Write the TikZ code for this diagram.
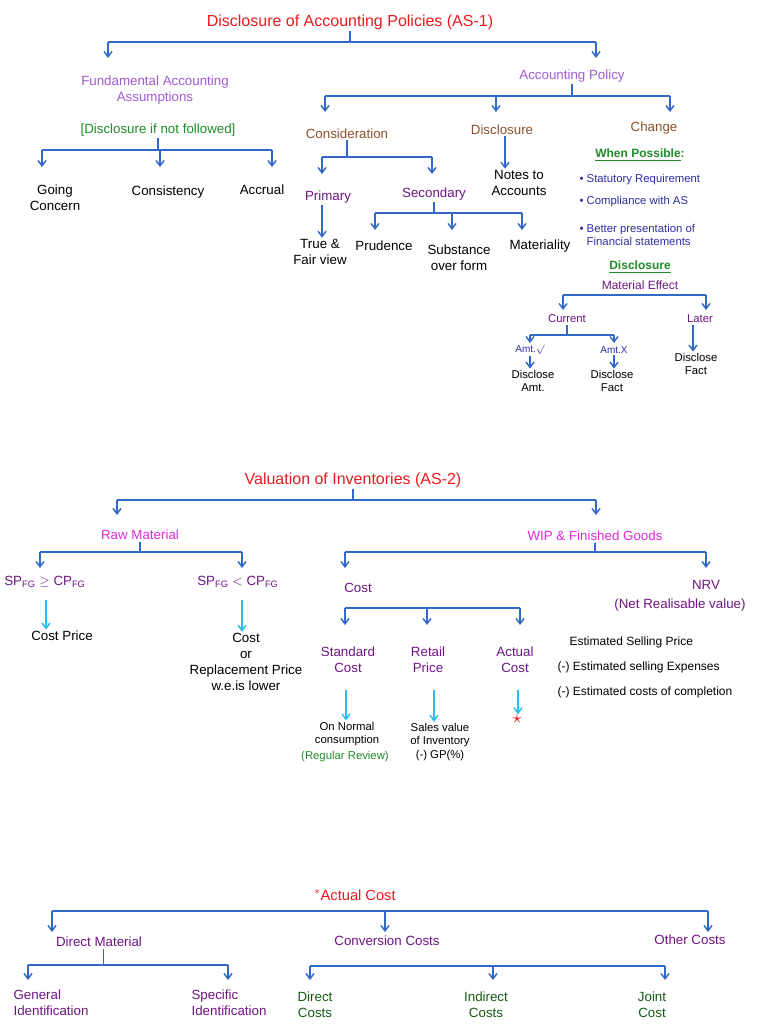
\documentclass[tikz,border=0pt]{standalone}
\usepackage{fontspec}
\setmainfont{Liberation Sans}
\usetikzlibrary{arrows.meta}
\definecolor{ttl}{RGB}{235,25,30}
\definecolor{ln}{RGB}{50,105,200}
\definecolor{lav}{RGB}{160,90,210}
\definecolor{brn}{RGB}{140,80,40}
\definecolor{grn}{RGB}{30,140,40}
\definecolor{mag}{RGB}{225,40,220}
\definecolor{dpur}{RGB}{110,20,130}
\definecolor{navy}{RGB}{45,45,160}
\definecolor{cyn}{RGB}{40,190,240}
\definecolor{dgrn}{RGB}{20,90,20}
\begin{document}
\begin{tikzpicture}[x=0.75pt,y=-0.75pt,
  t/.style={inner sep=1pt,align=center,font=\fontsize{10}{12}\selectfont},
  s/.style={t,font=\fontsize{8.5}{10}\selectfont},
  title/.style={t,text=ttl,font=\fontsize{12}{14}\selectfont},
  bar/.style={draw=ln,line width=1.1pt},
  arr/.style={bar,-{Straight Barb[length=4pt,width=6pt]}},
  carr/.style={draw=cyn,line width=1.1pt,-{Straight Barb[length=4pt,width=6pt]}}]
\useasboundingbox (0,0) rectangle (768,1024);
% ===== Section 1
\node[title] (t1) at (350,22) {Disclosure of Accounting Policies (AS-1)};
\coordinate (b1) at (0,42);
\node[t,text=lav] (fa) at (155,90) {Fundamental Accounting\\Assumptions};
\node[t,text=lav] (ap) at (572,76) {Accounting Policy};
\draw[bar] (t1.south) -- (t1.south|-b1);
\draw[bar] (108,42) -- (596,42);
\draw[arr] (108,42) -- (108,58);
\draw[arr] (596,42) -- (596,58);
\node[t,text=grn] (dn) at (158,130) {[Disclosure if not followed]};
\coordinate (b2) at (0,150);
\node[t] (gc) at (55,198) {Going\\Concern};
\node[t] (cs) at (168,192) {Consistency};
\node[t] (ac) at (262,190) {Accrual};
\draw[bar] (42,150) -- (272,150);
\draw[bar] (dn.south) -- (dn.south|-b2);
\foreach \x in {42,160,272} \draw[arr] (\x,150) -- (\x,167);
% Accounting policy
\node[t,text=brn] (con) at (347,134) {Consideration};
\node[t,text=brn] (dis) at (502,130) {Disclosure};
\node[t,text=brn] (chg) at (654,128) {Change};
\draw[bar] (ap.south) -- (ap.south|-0,96);
\draw[bar] (325,96) -- (670,96);
\foreach \x in {325,496,670} \draw[arr] (\x,96) -- (\x,112);
\node[t] (nta) at (519,183) {Notes to\\Accounts};
\draw[arr] (dis.south-|505,0) -- (nta.north-|505,0);
\draw[bar] (322,157) -- (432,157);
\draw[bar] (con.south) -- (con.south|-0,157);
\foreach \x in {322,432} \draw[arr] (\x,157) -- (\x,174);
\node[t,text=dpur] (pri) at (328,197) {Primary};
\node[t,text=dpur] (sec) at (434,194) {Secondary};
\node[t] (tfv) at (320,252) {True \&\\Fair view};
\draw[arr] (pri.south-|322,0) -- (tfv.north-|322,0);
\draw[bar] (375,213) -- (522,213);
\draw[bar] (sec.south) -- (sec.south|-0,213);
\foreach \x in {375,452,522} \draw[arr] (\x,213) -- (\x,230);
\node[t] (pru) at (384,246) {Prudence};
\node[t] (sof) at (459,258) {Substance\\over form};
\node[t] (mat) at (540,246) {Materiality};
\node[s,text=grn,font=\fontsize{9}{11}\selectfont\bfseries] (wp) at (640,155) {\underline{When Possible}:};
\node[s,text=navy,anchor=west] (b_1) at (578,180) {\textbullet\ Statutory Requirement};
\node[s,text=navy,anchor=west] (b_2) at (578,202) {\textbullet\ Compliance with AS};
\node[s,text=navy,anchor=west,align=left] (b_3) at (578,235) {\textbullet\ Better presentation of\\\phantom{\textbullet\ }Financial statements};
\node[s,text=grn,font=\fontsize{9}{11}\selectfont\bfseries] (dsc) at (640,267) {\underline{Disclosure}};
\node[s,text=dpur,font=\fontsize{9}{11}\selectfont] (me) at (640,285) {Material Effect};
\draw[bar] (563,295) -- (706,295);
\foreach \x in {563,706} \draw[arr] (\x,295) -- (\x,310);
\node[s,text=dpur] (cur) at (567,319) {Current};
\node[s,text=dpur] (lat) at (700,319) {Later};
\draw[bar] (cur.south) -- (cur.south|-0,335);
\draw[bar] (530,335) -- (614,335);
\foreach \x in {530,614} \draw[arr] (\x,335) -- (\x,343);
\node[s,text=navy,font=\fontsize{7.5}{9}\selectfont] (av) at (530,350) {Amt.$\surd$};
\node[s,text=navy,font=\fontsize{7.5}{9}\selectfont] (ax) at (614,350) {Amt.X};
\node[s] (da) at (533,381) {Disclose\\Amt.};
\node[s] (df) at (612,381) {Disclose\\Fact};
\draw[arr] (av.south-|530,0) -- (da.north-|530,0);
\draw[arr] (ax.south-|614,0) -- (df.north-|614,0);
\node[s] (lf) at (696,364) {Disclose\\Fact};
\draw[arr] (lat.south-|693,0) -- (lf.north-|693,0);
% ===== Section 2
\node[title] (t2) at (353,480) {Valuation of Inventories (AS-2)};
\draw[bar] (t2.south) -- (t2.south|-0,500);
\draw[bar] (117,500) -- (596,500);
\foreach \x in {117,596} \draw[arr] (\x,500) -- (\x,515);
\node[t,text=mag] (rm) at (140,535) {Raw Material};
\node[t,text=mag] (wip) at (595,536) {WIP \& Finished Goods};
\draw[bar] (rm.south) -- (rm.south|-0,552);
\draw[bar] (40,552) -- (242,552);
\foreach \x in {40,242} \draw[arr] (\x,552) -- (\x,568);
\node[t,text=dpur] (s1) at (45,582) {SP$_{\mathrm{FG}}\geq$ CP$_{\mathrm{FG}}$};
\node[t,text=dpur] (s2) at (238,582) {SP$_{\mathrm{FG}}<$ CP$_{\mathrm{FG}}$};
\node[t] (cp) at (62,636) {Cost Price};
\node[t] (crp) at (246,662) {Cost\\or\\Replacement Price\\w.e.is lower};
\draw[carr] (46,600) -- (cp.north-|46,0);
\draw[carr] (242,600) -- (crp.north-|242,0);
\draw[bar] (wip.south) -- (wip.south|-0,552);
\draw[bar] (345,552) -- (706,552);
\foreach \x in {345,706} \draw[arr] (\x,552) -- (\x,568);
\node[t,text=dpur] (cost) at (358,588) {Cost};
\node[t,text=dpur] (nrv) at (706,585) {NRV};
\node[t,text=dpur] (nrvt) at (680,605) {(Net Realisable value)};
\draw[bar] (345,608) -- (520,608);
\foreach \x in {345,427,520} \draw[arr] (\x,608) -- (\x,625);
\node[t,text=dpur] (sc) at (348,660) {Standard\\Cost};
\node[t,text=dpur] (rp) at (428,660) {Retail\\Price};
\node[t,text=dpur] (acc) at (515,660) {Actual\\Cost};
\node[s] (onc) at (347,734) {On Normal\\consumption};
\node[s,text=grn] (rr) at (345,757) {(Regular Review)};
\node[s] (svi) at (440,742) {Sales value\\of Inventory\\(-) GP(\%)};
\node[text=ttl,inner sep=0pt,font=\Large] (star) at (517,719) {$\star$};
\draw[carr] (346,690) -- (onc.north-|346,0);
\draw[carr] (434,690) -- (svi.north-|434,0);
\draw[carr] (518,690) -- (star.north-|518,0);
\node[s,anchor=west,align=left,font=\fontsize{9}{11}\selectfont] (nrv1) at (568,642) {Estimated Selling Price};
\node[s,anchor=west,align=left,font=\fontsize{9}{11}\selectfont] (nrv2) at (556,667) {(-) Estimated selling Expenses};
\node[s,anchor=west,align=left,font=\fontsize{9}{11}\selectfont] (nrv3) at (556,692) {(-) Estimated costs of completion};
% ===== Section 3
\node[title,font=\fontsize{11}{13}\selectfont] (t3) at (355,895) {$^{*}$Actual Cost};
\draw[bar] (52,911) -- (708,911);
\foreach \x in {52,385,708} \draw[arr] (\x,911) -- (\x,932);
\node[t,text=dpur] (dm) at (99,942) {Direct Material};
\node[t,text=dpur] (cc) at (387,941) {Conversion Costs};
\node[t,text=dpur] (oc) at (690,940) {Other Costs};
\draw[line width=0.6pt,draw=ln] (dm.south-|103,0) -- (103,965);
\draw[bar] (28,965) -- (228,965);
\foreach \x in {28,228} \draw[arr] (\x,965) -- (\x,980);
\node[t,text=dpur,anchor=north west,align=left] (gi) at (12,988) {General\\Identification};
\node[t,text=dpur,anchor=north west,align=left] (si) at (190,988) {Specific\\Identification};
\draw[bar] (310,966) -- (665,966);
\foreach \x in {310,493,665} \draw[arr] (\x,966) -- (\x,980);
\node[t,text=dgrn,anchor=north] (dc) at (315,990) {Direct\\Costs};
\node[t,text=dgrn,anchor=north] (ic) at (486,990) {Indirect\\Costs};
\node[t,text=dgrn,anchor=north] (jc) at (652,990) {Joint\\Cost};
\end{tikzpicture}
\end{document}
